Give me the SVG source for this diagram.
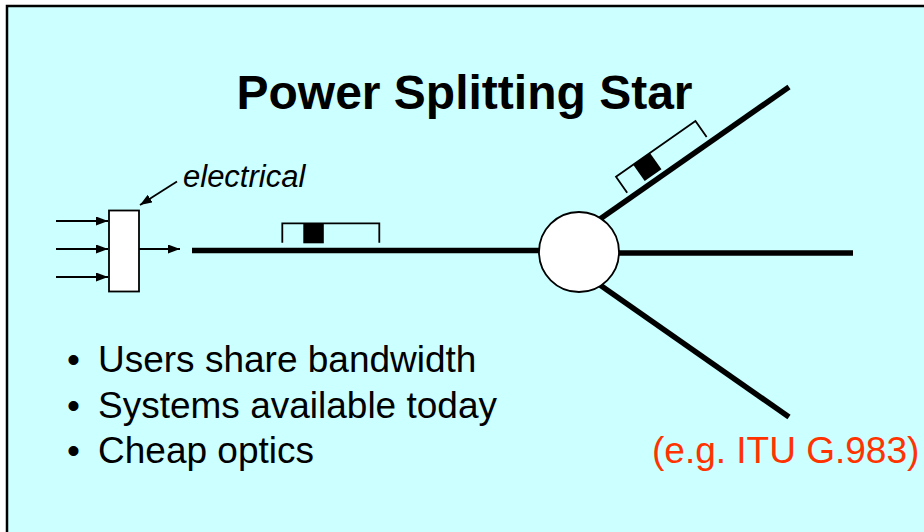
<svg xmlns="http://www.w3.org/2000/svg" width="924" height="532" viewBox="0 0 924 532">
<defs>
<style>
.thin{stroke:#000;stroke-width:1.8;fill:none}
.fiber{stroke:#000;stroke-width:5.5;fill:none}
.txt{font-family:"Liberation Sans",Arial,sans-serif;fill:#000}
</style>
<marker id="ah" markerWidth="12" markerHeight="9" refX="12" refY="4.5" orient="auto" markerUnits="userSpaceOnUse">
<path d="M0,0 L12,4.5 L0,9 Z" fill="#000"/>
</marker>
<g id="pkt">
<path d="M0,19.5 V0 H97 V19.5" class="thin"/>
<rect x="21" y="0" width="20.5" height="20" fill="#000"/>
</g>
</defs>
<rect x="0" y="0" width="924" height="532" fill="#fff"/>
<rect x="7" y="6" width="930" height="540" fill="#CCFFFF" stroke="#000" stroke-width="2.5"/>
<text x="464.5" y="109" text-anchor="middle" class="txt" font-size="48" font-weight="bold">Power Splitting Star</text>

<g id="connectors">
<line x1="56" y1="221" x2="108" y2="221" class="thin" marker-end="url(#ah)"/>
<line x1="56" y1="249" x2="108" y2="249" class="thin" marker-end="url(#ah)"/>
<line x1="56" y1="277" x2="108" y2="277" class="thin" marker-end="url(#ah)"/>
<line x1="139" y1="249" x2="180" y2="249" class="thin" marker-end="url(#ah)"/>
<line x1="177" y1="181.5" x2="140" y2="205" class="thin" marker-end="url(#ah)"/>
<line x1="192" y1="250.5" x2="540" y2="250.5" class="fiber"/>
<line x1="618" y1="253" x2="853" y2="253" class="fiber"/>
<line x1="600" y1="219" x2="789" y2="87" class="fiber"/>
<line x1="600" y1="285" x2="789" y2="417" class="fiber"/>
</g>

<g id="converter">
<rect x="109" y="210.5" width="30" height="81" fill="#fff" stroke="#000" stroke-width="1.8"/>
</g>
<g id="label-electrical">
<text x="183" y="187" class="txt" font-size="31" font-style="italic">electrical</text>
</g>
<g id="packet-main">
<use href="#pkt" transform="translate(282.3,223.3)"/>
</g>
<g id="packet-branch">
<use href="#pkt" transform="translate(616,176.7) rotate(-35)"/>
</g>
<g id="splitter">
<circle cx="579" cy="252" r="40" fill="#fff" stroke="#000" stroke-width="1.8"/>
</g>

<g id="bullets" class="txt" font-size="37">
<text x="67" y="372" class="txt">•</text>
<text x="98" y="372" class="txt">Users share bandwidth</text>
<text x="67" y="418" class="txt">•</text>
<text x="98" y="418" class="txt">Systems available today</text>
<text x="67" y="463" class="txt">•</text>
<text x="98" y="463" class="txt">Cheap optics</text>
</g>
<g id="standard">
<text x="652" y="463" font-family="Liberation Sans, Arial, sans-serif" font-size="37" fill="#FF3300">(e.g. ITU G.983)</text>
</g>
</svg>
